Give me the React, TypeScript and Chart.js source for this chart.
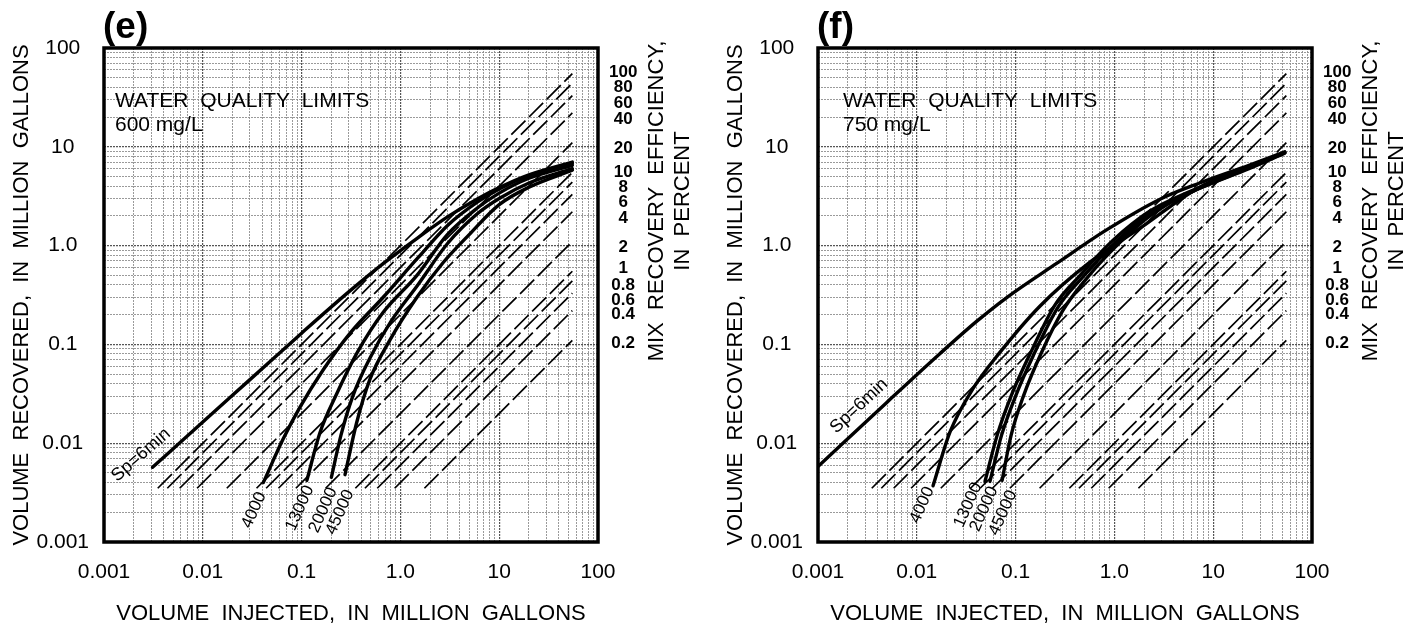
import React, { useEffect, useRef } from "react";
import { Chart, registerables } from "chart.js";

Chart.register(...registerables);

const FONT = "'Liberation Sans', Arial, Helvetica, sans-serif";

// ---------- axes (log-log, both panels) ----------
const axisMin = 0.001;
const axisMax = 100;
const decadeLabels = ["0.001", "0.01", "0.1", "1.0", "10", "100"];
const gridMultipliers = [1, 2, 3, 4, 5, 6, 7, 8, 9];
const xTitle = "VOLUME  INJECTED,  IN  MILLION  GALLONS";
const yTitle = "VOLUME  RECOVERED,  IN  MILLION  GALLONS";
const rightTitleLines = ["MIX  RECOVERY  EFFICIENCY,", "IN  PERCENT"];

// ---------- recovery-efficiency guide lines (Vr = eff * Vi) ----------
const efficiencyPercent = [100, 80, 60, 40, 20, 10, 8, 6, 4, 2, 1, 0.8, 0.6, 0.4, 0.2];
const efficiencyTickLabels = ["100", "80", "60", "40", "20", "10", "8", "6", "4", "2", "1", "0.8", "0.6", "0.4", "0.2"];
const efficiencyTickAt = [57, 40.3, 27.7, 19.1, 9.7, 5.56, 3.92, 2.76, 1.9, 0.97, 0.59, 0.4, 0.28, 0.2, 0.103];
const guideStartRecovered = 0.0035;
const guideEndInjected = 55;

// ---------- panel (e): 600 mg/L ----------
const eSpInjected = [0.0031, 0.01, 0.03, 0.1, 0.3, 0.7, 1.5, 3, 6, 10, 20, 55];
const eSpRecovered = [0.0057, 0.0164, 0.044, 0.13, 0.34, 0.68, 1.2, 1.95, 2.96, 3.86, 5.2, 7.0];
const e4000Injected = [0.041, 0.065, 0.096, 0.165, 0.31, 0.67, 1.5, 3, 6, 10, 20, 55];
const e4000Recovered = [0.004, 0.011, 0.023, 0.055, 0.13, 0.3, 0.75, 1.6, 2.75, 3.75, 5.1, 6.8];
const e13000Injected = [0.113, 0.153, 0.228, 0.364, 0.667, 1.47, 3, 6, 10, 20, 55];
const e13000Recovered = [0.0042, 0.0127, 0.032, 0.082, 0.21, 0.5, 1.3, 2.4, 3.4, 4.8, 6.5];
const e20000Injected = [0.2, 0.25, 0.33, 0.5, 0.8, 1.5, 3, 6, 10, 20, 55];
const e20000Recovered = [0.0045, 0.012, 0.03, 0.075, 0.17, 0.4, 1.05, 2.1, 3.0, 4.3, 6.0];
const e45000Injected = [0.275, 0.36, 0.49, 0.78, 1.47, 2.7, 5, 10, 20, 55];
const e45000Recovered = [0.0048, 0.016, 0.044, 0.11, 0.3, 0.67, 1.3, 2.6, 3.9, 5.8];

// ---------- panel (f): 750 mg/L ----------
const fSpInjected = [0.001, 0.005, 0.017, 0.04, 0.082, 0.26, 0.84, 2.9, 7.3, 23, 53];
const fSpRecovered = [0.0058, 0.026, 0.08, 0.17, 0.3, 0.66, 1.45, 2.95, 4.3, 6.5, 8.9];
const f4000Injected = [0.0146, 0.0217, 0.037, 0.07, 0.177, 0.566, 1.82, 7.3, 23, 53];
const f4000Recovered = [0.0037, 0.013, 0.0356, 0.084, 0.245, 0.68, 1.5, 3.9, 6.2, 8.7];
const f13000Injected = [0.049, 0.065, 0.09, 0.14, 0.25, 0.45, 0.85, 1.8, 3, 7.3, 23, 53];
const f13000Recovered = [0.0041, 0.012, 0.03, 0.08, 0.25, 0.5, 1.0, 1.9, 2.6, 3.9, 6.2, 8.8];
const f20000Injected = [0.055, 0.072, 0.1, 0.15, 0.27, 0.47, 0.9, 1.9, 3, 7.3, 23, 53];
const f20000Recovered = [0.0041, 0.012, 0.03, 0.076, 0.24, 0.47, 0.95, 1.85, 2.5, 3.8, 6.1, 8.7];
const f45000Injected = [0.073, 0.09, 0.12, 0.18, 0.3, 0.5, 0.95, 2, 3.2, 7.3, 23, 53];
const f45000Recovered = [0.0042, 0.012, 0.03, 0.08, 0.22, 0.44, 0.9, 1.8, 2.5, 3.8, 6.0, 8.6];

// ---------- curve labels (text, anchor in data units) ----------
const curveNames = ["Sp=6min", "4000", "13000", "20000", "45000"];
const eLabelInjected = [0.00237, 0.033, 0.096, 0.165, 0.245];
const eLabelRecovered = [0.0076, 0.0021, 0.0022, 0.0021, 0.002];
const fLabelInjected = [0.0026, 0.0113, 0.033, 0.0479, 0.0745];
const fLabelRecovered = [0.0238, 0.00237, 0.00237, 0.00216, 0.00197];

type Spec = {
  tag: string;
  limit: string;
  noteDx: number;
  curves: [number[], number[]][];
  labelX: number[];
  labelY: number[];
  spAngle: number;
};

const panelE: Spec = {
  tag: "(e)",
  limit: "600 mg/L",
  noteDx: 11,
  curves: [
    [eSpInjected, eSpRecovered],
    [e4000Injected, e4000Recovered],
    [e13000Injected, e13000Recovered],
    [e20000Injected, e20000Recovered],
    [e45000Injected, e45000Recovered],
  ],
  labelX: eLabelInjected,
  labelY: eLabelRecovered,
  spAngle: -41,
};

const panelF: Spec = {
  tag: "(f)",
  limit: "750 mg/L",
  noteDx: 25,
  curves: [
    [fSpInjected, fSpRecovered],
    [f4000Injected, f4000Recovered],
    [f13000Injected, f13000Recovered],
    [f20000Injected, f20000Recovered],
    [f45000Injected, f45000Recovered],
  ],
  labelX: fLabelInjected,
  labelY: fLabelRecovered,
  spAngle: -43,
};

const gridValues: number[] = [];
for (let e = -3; e < 2; e++) {
  for (const m of gridMultipliers) gridValues.push(Number((m * Math.pow(10, e)).toPrecision(6)));
}
gridValues.push(axisMax);

function decadeIndex(v: number): number {
  const l = Math.log10(v);
  if (Math.abs(l - Math.round(l)) < 1e-6) return Math.round(l) + 3;
  return -1;
}

const gridColor = (c: any) => (c.tick && decadeIndex(c.tick.value) >= 0 ? "#555" : "#8f8f8f");
const gridWidth = (c: any) => (c.tick && decadeIndex(c.tick.value) >= 0 ? 1.2 : 0.9);

function makePlugin(spec: Spec) {
  return {
    id: "annotations",
    afterDatasetsDraw(chart: any) {
      const { ctx, chartArea: a, scales } = chart;
      const xs = scales.x;
      const ys = scales.y;
      ctx.save();
      ctx.strokeStyle = "#000";
      ctx.lineWidth = 3.5;
      ctx.strokeRect(a.left, a.top, a.right - a.left, a.bottom - a.top);

      ctx.fillStyle = "#000";
      ctx.textAlign = "left";
      ctx.textBaseline = "middle";
      ctx.font = `bold 37px ${FONT}`;
      ctx.fillText(spec.tag, a.left - 1, 28);

      ctx.font = `21px ${FONT}`;
      ctx.fillText("WATER  QUALITY  LIMITS", a.left + spec.noteDx, a.top + 53);
      ctx.fillText(spec.limit, a.left + spec.noteDx, a.top + 77);

      curveNames.forEach((name, i) => {
        const px = xs.getPixelForValue(spec.labelX[i]);
        const py = ys.getPixelForValue(spec.labelY[i]);
        ctx.save();
        ctx.translate(px, py);
        ctx.rotate(((i === 0 ? spec.spAngle : -66) * Math.PI) / 180);
        ctx.textAlign = "center";
        ctx.font = i === 0 ? `18px ${FONT}` : `17px ${FONT}`;
        ctx.fillText(name, 0, 0);
        ctx.restore();
      });

      ctx.font = `22px ${FONT}`;
      ctx.textAlign = "center";
      rightTitleLines.forEach((line, i) => {
        ctx.save();
        ctx.translate(a.right + 59 + i * 26, 201);
        ctx.rotate(-Math.PI / 2);
        ctx.fillText(line, 0, 0);
        ctx.restore();
      });
      ctx.restore();
    },
  };
}

function Panel({ spec, left, width }: { spec: Spec; left: number; width: number }) {
  const ref = useRef<HTMLCanvasElement>(null);
  useEffect(() => {
    const canvas = ref.current!;
    const curveSets = spec.curves.map(([xs, ys], i) => ({
      label: curveNames[i],
      data: xs.map((x, k) => ({ x, y: ys[k] })),
      showLine: true,
      borderColor: "#000",
      borderWidth: 3.4,
      borderCapStyle: "round" as const,
      pointRadius: 0,
      cubicInterpolationMode: "monotone" as const,
      order: 0,
    }));
    const guideSets = efficiencyPercent.map((p) => ({
      label: `${p}%`,
      data: [
        { x: guideStartRecovered / (p / 100), y: guideStartRecovered },
        { x: guideEndInjected, y: (guideEndInjected * p) / 100 },
      ],
      showLine: true,
      borderColor: "#000",
      borderWidth: 1.7,
      borderDash: [20, 5],
      pointRadius: 0,
      order: 1,
    }));
    const chart = new Chart(canvas, {
      type: "scatter",
      data: { datasets: [...curveSets, ...guideSets] as any },
      plugins: [makePlugin(spec)],
      options: {
        animation: false,
        responsive: false,
        events: [],
        layout: { padding: { top: 48, left: 0, right: 0, bottom: 0 } },
        plugins: { legend: { display: false }, tooltip: { enabled: false } },
        scales: {
          x: {
            type: "logarithmic",
            position: "bottom",
            min: axisMin,
            max: axisMax,
            afterBuildTicks: (s: any) => {
              s.ticks = gridValues.map((v) => ({ value: v }));
            },
            afterFit: (s: any) => {
              s.height = 92;
            },
            ticks: {
              autoSkip: false,
              maxRotation: 0,
              minRotation: 0,
              padding: 18,
              color: "#000",
              font: { size: 21, family: FONT },
              callback: (v: any) => {
                const i = decadeIndex(Number(v));
                return i >= 0 ? decadeLabels[i] : "";
              },
            },
            grid: { color: gridColor, lineWidth: gridWidth, drawTicks: false },
            border: { display: false, dash: [2, 1] },
            title: {
              display: true,
              text: xTitle,
              color: "#000",
              font: { size: 22, family: FONT },
              padding: { top: 0, bottom: 7 },
            },
          },
          y: {
            type: "logarithmic",
            position: "left",
            min: axisMin,
            max: axisMax,
            afterBuildTicks: (s: any) => {
              s.ticks = gridValues.map((v) => ({ value: v }));
            },
            afterFit: (s: any) => {
              s.width = 104;
            },
            ticks: {
              autoSkip: false,
              crossAlign: "center",
              padding: 15,
              color: "#000",
              font: { size: 21, family: FONT },
              callback: (v: any) => {
                const i = decadeIndex(Number(v));
                return i >= 0 ? decadeLabels[i] : "";
              },
            },
            grid: { color: gridColor, lineWidth: gridWidth, drawTicks: false },
            border: { display: false, dash: [2, 1] },
            title: {
              display: true,
              text: yTitle,
              color: "#000",
              font: { size: 22, family: FONT },
              padding: { top: 9, bottom: 0 },
            },
          },
          eff: {
            type: "logarithmic",
            axis: "y",
            position: "right",
            min: axisMin,
            max: axisMax,
            afterBuildTicks: (s: any) => {
              s.ticks = efficiencyTickAt.map((v) => ({ value: v }));
            },
            afterFit: (s: any) => {
              s.width = width - 598;
            },
            ticks: {
              autoSkip: false,
              crossAlign: "center",
              padding: 11,
              color: "#000",
              font: { size: 17, family: FONT, weight: "bold" },
              callback: (_v: any, i: number) => efficiencyTickLabels[i],
            },
            grid: { display: false, drawTicks: false },
            border: { display: false },
          },
        } as any,
      },
    });
    return () => chart.destroy();
  }, []);
  return (
    <canvas
      ref={ref}
      width={width}
      height={634}
      style={{ position: "absolute", left, top: 0, width, height: 634 }}
    />
  );
}

export default function App() {
  return (
    <div
      style={{
        position: "fixed",
        left: 0,
        top: 0,
        width: 1425,
        height: 634,
        background: "#fff",
        overflow: "hidden",
      }}
    >
      <Panel spec={panelE} left={0} width={712} />
      <Panel spec={panelF} left={714} width={711} />
    </div>
  );
}
